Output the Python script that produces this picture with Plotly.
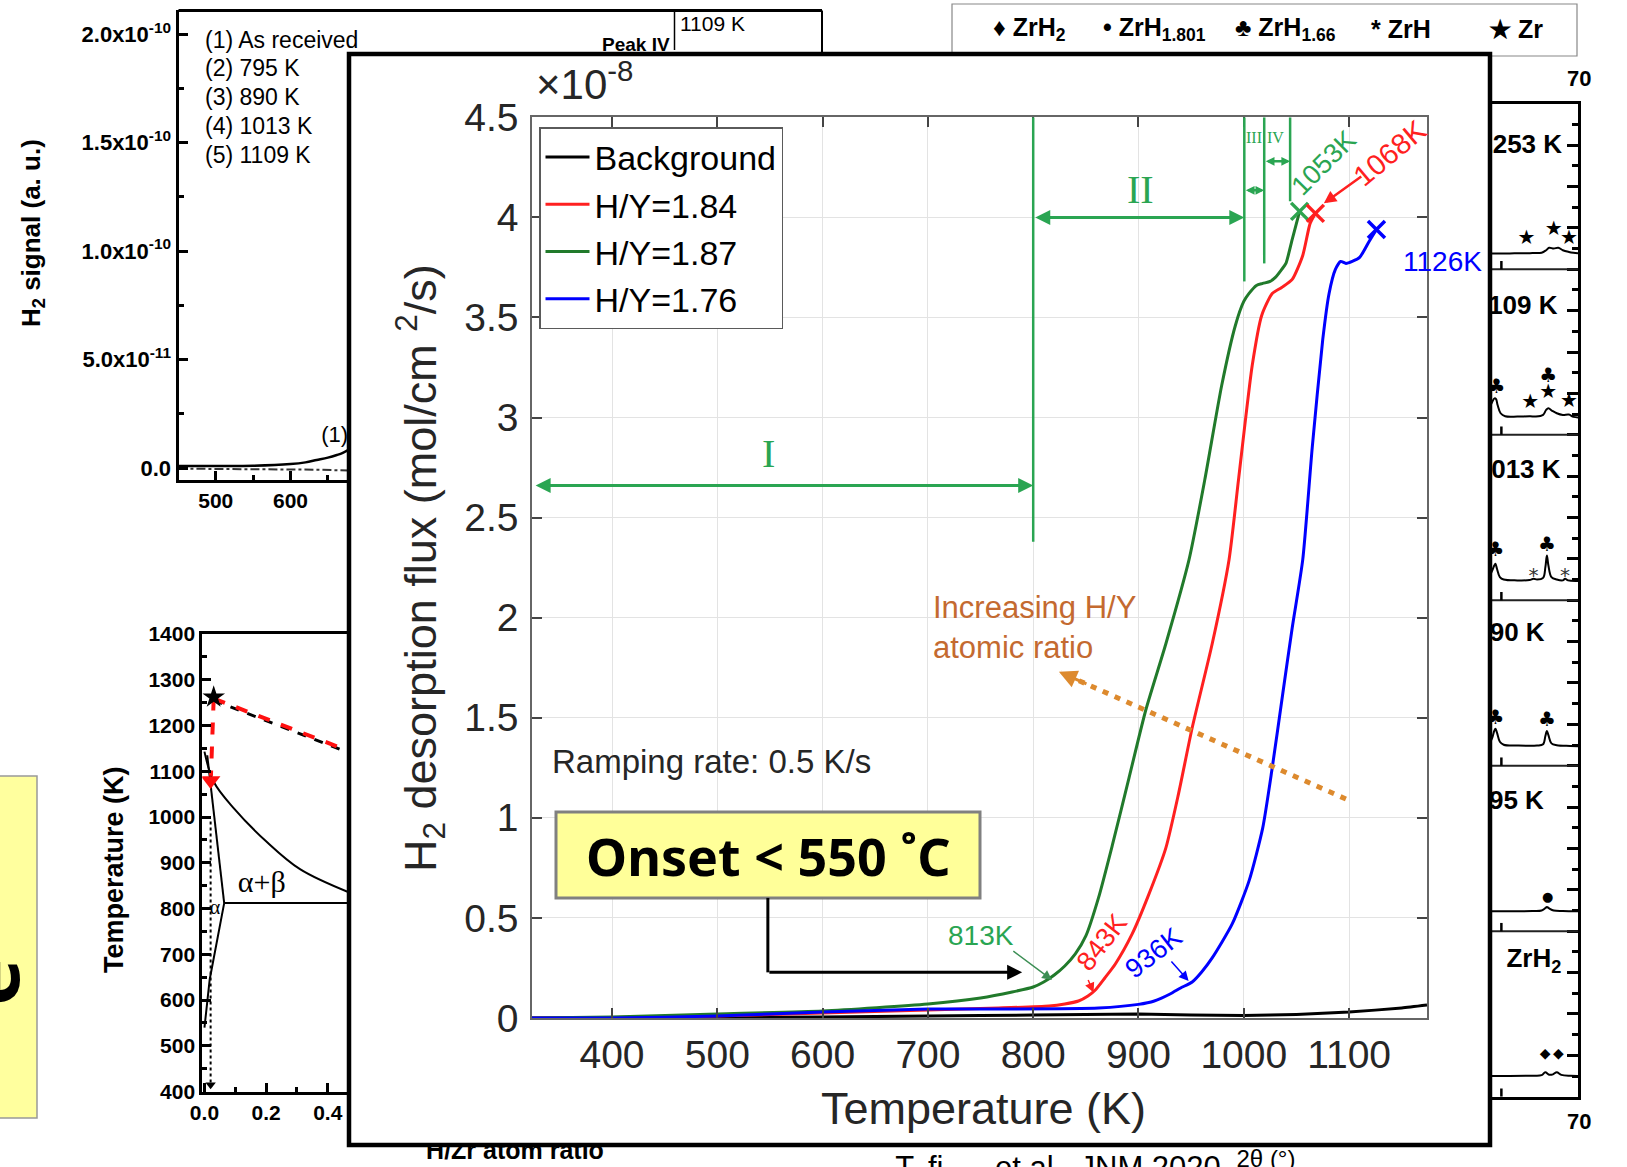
import plotly.graph_objects as go

W, H = 1627, 1167
def px(x): return x / W
def py(y): return 1 - y / H

FONT = "Liberation Sans"
SERIF = "Liberation Serif"
GREEN_LINE = "#217a2b"
GREEN_ANN = "#2aa552"
RED = "#ff2020"
BLUE = "#0000ff"
ORANGE = "#c46a30"
ORANGE_DOT = "#dd8a2e"
TXT = "#262626"

# ---------------- main chart data (flux in 1e-8 mol/cm^2/s) ----------------
bg_T = [324, 400, 500, 600, 700, 800, 900, 950, 1000, 1050, 1100, 1150, 1174]
bg_v = [0.0, 0.0, 0.002, 0.005, 0.01, 0.015, 0.02, 0.015, 0.012, 0.018, 0.03, 0.05, 0.065]

r_T = [324, 400, 500, 600, 700, 767, 815, 830, 843, 852, 859, 868, 878, 894, 910, 926, 938,
       951, 970, 986, 995, 1008, 1017, 1027, 1036, 1046, 1056, 1063, 1068]
r_v = [0.0, 0.003, 0.01, 0.025, 0.04, 0.05, 0.06, 0.07, 0.085, 0.11, 0.14, 0.2, 0.27, 0.42,
       0.62, 0.85, 1.12, 1.45, 1.87, 2.29, 2.69, 3.26, 3.51, 3.62, 3.65, 3.69, 3.81, 3.97, 4.02]

g_T = [324, 400, 500, 600, 700, 750, 780, 800, 810, 820, 830, 840, 850, 862, 875, 891, 907,
       926, 948, 963, 979, 992, 1000, 1005, 1012, 1018, 1025, 1030, 1036, 1040, 1046, 1050, 1053]
g_v = [0.0, 0.005, 0.02, 0.035, 0.07, 0.1, 0.13, 0.155, 0.18, 0.215, 0.26, 0.32, 0.41, 0.6,
       0.86, 1.2, 1.54, 1.87, 2.29, 2.69, 3.16, 3.46, 3.58, 3.62, 3.66, 3.67, 3.68, 3.70, 3.74,
       3.77, 3.89, 3.97, 4.03]

b_T = [324, 400, 500, 600, 700, 767, 862, 900, 915, 930, 940, 951, 960, 970, 989, 1005, 1018,
       1027, 1037, 1046, 1056, 1065, 1075, 1081, 1087, 1092, 1097, 1103, 1110, 1119, 1126]
b_v = [0.0, 0.0, 0.01, 0.03, 0.045, 0.045, 0.05, 0.068, 0.085, 0.12, 0.15, 0.18, 0.23, 0.30,
       0.47, 0.685, 0.95, 1.25, 1.62, 1.95, 2.29, 2.85, 3.39, 3.62, 3.74, 3.78, 3.77, 3.78,
       3.80, 3.88, 3.94]

end_T = {"g": 1053, "r": 1068, "b": 1126}
end_v = {"g": 4.03, "r": 4.02, "b": 3.94}

x_ticks = [400, 500, 600, 700, 800, 900, 1000, 1100]
y_ticks = [0, 0.5, 1, 1.5, 2, 2.5, 3, 3.5, 4, 4.5]

stage_T = [800, 1000.5, 1019.4, 1044]
stage_vlow = [2.38, 3.68, 3.77, 4.08]

# ---------------- top-left H2 signal panel (1e-11 a.u.) ----------------
tl_T = [450, 500, 550, 600, 620, 635, 650, 662, 670, 678]
tl_v = [0.09, 0.09, 0.1, 0.18, 0.26, 0.37, 0.48, 0.6, 0.7, 0.85]
tl_dot_T = [450, 500, 550, 600, 640, 678]
tl_dot_v = [-0.03, -0.04, -0.03, -0.04, -0.08, -0.12]
tl_labels = ["(1) As received", "(2) 795 K", "(3) 890 K", "(4) 1013 K", "(5) 1109 K"]

# ---------------- bottom-left phase diagram ----------------
beta_x = [0.0, 0.03, 0.094, 0.2, 0.31, 0.47]
beta_T = [1143, 1077, 1020, 947, 886, 835]
alpha_up_x = [0.009, 0.064]
alpha_up_T = [1135, 812]
eut_x = [0.064, 0.47]
eut_T = [812, 812]
alpha_lo_x = [0.064, 0.017, 0.0]
alpha_lo_T = [812, 645, 540]
path_x = [0.03, 0.47]
path_T = [1259, 1144]
drop_x = [0.03, 0.021]
drop_T = [1259, 1090]
cool_x = [0.02, 0.02]
cool_T = [990, 415]

# ---------------- right XRD panel (2theta, stacked units) ----------------
xrd_x = [
    [64.2, 65.5, 67.0, 67.6, 67.84, 68.1, 68.35, 68.6, 68.9, 69.5, 70.0],
    [64.2, 65.5, 67.0, 67.6, 67.85, 67.95, 68.1, 68.4, 69.0, 70.0],
    [64.2, 64.35, 64.48, 64.56, 64.66, 64.85, 65.1, 66.0, 67.3, 67.7, 67.85, 67.95, 68.05, 68.25, 68.6, 69.5, 70.0],
    [64.2, 64.35, 64.48, 64.56, 64.66, 64.85, 65.1, 66.0, 66.8, 67.07, 67.3, 67.7, 67.85, 67.95, 68.05, 68.25, 68.6, 69.0, 69.15, 69.35, 70.0],
    [64.2, 64.35, 64.5, 64.6, 64.7, 64.9, 65.2, 66.0, 66.85, 67.2, 67.7, 67.9, 68.05, 68.3, 68.6, 69.0, 69.4, 69.7, 70.0],
    [64.2, 65.5, 66.6, 67.0, 67.6, 67.9, 68.1, 68.4, 68.7, 69.0, 69.4, 69.7, 70.0],
]
xrd_y = [
    [0.125, 0.125, 0.127, 0.13, 0.148, 0.133, 0.135, 0.148, 0.132, 0.126, 0.125],
    [1.12, 1.121, 1.122, 1.125, 1.14, 1.147, 1.138, 1.125, 1.122, 1.12],
    [2.14, 2.17, 2.21, 2.223, 2.2, 2.145, 2.127, 2.122, 2.122, 2.13, 2.18, 2.21, 2.185, 2.135, 2.124, 2.12, 2.118],
    [3.15, 3.18, 3.21, 3.22, 3.19, 3.14, 3.125, 3.12, 3.122, 3.13, 3.125, 3.135, 3.2, 3.27, 3.21, 3.14, 3.125, 3.12, 3.13, 3.12, 3.117],
    [4.17, 4.2, 4.22, 4.215, 4.18, 4.13, 4.112, 4.11, 4.112, 4.11, 4.12, 4.15, 4.16, 4.145, 4.13, 4.12, 4.122, 4.108, 4.105],
    [5.095, 5.096, 5.097, 5.098, 5.1, 5.115, 5.13, 5.125, 5.13, 5.115, 5.105, 5.1, 5.097],
]
xrd_labels = ["ZrH<sub>2</sub>", "795 K", "890 K", "1013 K", "1109 K", "1253 K"]
xrd_label_x = [68.9, 67.75, 67.8, 68.85, 68.65, 68.95]
xrd_label_y = [0.82, 1.78, 2.79, 3.78, 4.77, 5.74]
star_x = [66.6, 68.4, 69.4, 66.85, 68.03, 69.4]
star_y = [5.185, 5.235, 5.185, 4.19, 4.25, 4.2]
club_x = [64.62, 68.03, 64.56, 67.95, 64.56, 67.95]
club_y = [4.28, 4.35, 3.30, 3.33, 2.28, 2.27]
ast_x = [67.07, 69.15]
ast_y = [3.14, 3.14]
dot_x = [68.0]
dot_y = [1.2]
dia_x = [67.84, 68.7]
dia_y = [0.252, 0.252]
xrd_legend = ["♦ ZrH<sub>2</sub>", "• ZrH<sub>1.801</sub>", "♣ ZrH<sub>1.66</sub>", "* ZrH", "★ Zr"]
xrd_legend_x = [991, 1101, 1233, 1369, 1487]

fig = go.Figure()

# ---- main traces ----
fig.add_trace(go.Scatter(x=bg_T, y=bg_v, mode="lines", name="Background",
                         line=dict(color="black", width=3, shape="spline", smoothing=0.5)))
fig.add_trace(go.Scatter(x=r_T, y=r_v, mode="lines", name="H/Y=1.84",
                         line=dict(color=RED, width=3, shape="spline", smoothing=0.6)))
fig.add_trace(go.Scatter(x=g_T, y=g_v, mode="lines", name="H/Y=1.87",
                         line=dict(color=GREEN_LINE, width=3, shape="spline", smoothing=0.6)))
fig.add_trace(go.Scatter(x=b_T, y=b_v, mode="lines", name="H/Y=1.76",
                         line=dict(color=BLUE, width=3, shape="spline", smoothing=0.6)))
for k, c in [("g", "#2da44e"), ("r", RED), ("b", BLUE)]:
    fig.add_trace(go.Scatter(x=[end_T[k]], y=[end_v[k]], mode="markers", showlegend=False,
                             marker=dict(symbol="x-thin", size=17, line=dict(width=3.5, color=c))))
# orange dotted trend line
fig.add_trace(go.Scatter(x=[1097, 826], y=[1.094, 1.726], mode="lines", showlegend=False,
                         line=dict(color=ORANGE_DOT, width=5, dash="6px,7px")))

# ---- top-left panel ----
fig.add_trace(go.Scatter(x=tl_T, y=tl_v, mode="lines", showlegend=False, xaxis="x2", yaxis="y2",
                         line=dict(color="black", width=2.5, shape="spline")))
fig.add_trace(go.Scatter(x=tl_dot_T, y=tl_dot_v, mode="lines", showlegend=False, xaxis="x2", yaxis="y2",
                         line=dict(color="#333", width=2, dash="dashdot")))
fig.add_trace(go.Scatter(x=[659], y=[1.45], mode="text", text=["(1)"], showlegend=False,
                         xaxis="x2", yaxis="y2", textfont=dict(family=FONT, size=22, color="black")))

# ---- phase diagram ----
pd = dict(xaxis="x3", yaxis="y3", showlegend=False, mode="lines")
fig.add_trace(go.Scatter(x=beta_x, y=beta_T, line=dict(color="black", width=2, shape="spline"), **pd))
fig.add_trace(go.Scatter(x=alpha_up_x, y=alpha_up_T, line=dict(color="black", width=2), **pd))
fig.add_trace(go.Scatter(x=eut_x, y=eut_T, line=dict(color="black", width=2), **pd))
fig.add_trace(go.Scatter(x=alpha_lo_x, y=alpha_lo_T, line=dict(color="black", width=2), **pd))
fig.add_trace(go.Scatter(x=cool_x, y=cool_T, line=dict(color="black", width=2, dash="dot"), **pd))
fig.add_trace(go.Scatter(x=[cool_x[1]], y=[cool_T[1]], xaxis="x3", yaxis="y3", showlegend=False,
                         mode="markers", marker=dict(symbol="triangle-down", size=9, color="black")))
fig.add_trace(go.Scatter(x=path_x, y=[t - 4 for t in path_T], line=dict(color="black", width=3, dash="dash"), **pd))
fig.add_trace(go.Scatter(x=path_x, y=path_T, line=dict(color="#ff1010", width=4, dash="dash"), **pd))
fig.add_trace(go.Scatter(x=drop_x, y=drop_T, line=dict(color="#ff1010", width=4, dash="dash"), **pd))
fig.add_trace(go.Scatter(x=[0.02], y=[1080], xaxis="x3", yaxis="y3", showlegend=False, mode="markers",
                         marker=dict(symbol="triangle-down", size=17, color="#ff1010")))
fig.add_trace(go.Scatter(x=[0.03], y=[1262], xaxis="x3", yaxis="y3", showlegend=False, mode="markers",
                         marker=dict(symbol="star", size=17, color="black")))
fig.add_trace(go.Scatter(x=[0.186, 0.034], y=[853, 800], xaxis="x3", yaxis="y3", showlegend=False,
                         mode="text", text=["α+β", "α"],
                         textfont=dict(family=SERIF, size=[30, 20], color="black")))

# ---- XRD panel ----
for xs, ys in zip(xrd_x, xrd_y):
    fig.add_trace(go.Scatter(x=xs, y=ys, mode="lines", showlegend=False, xaxis="x4", yaxis="y4",
                             line=dict(color="black", width=2, shape="spline", smoothing=1)))
sym = dict(mode="text", showlegend=False, xaxis="x4", yaxis="y4")
fig.add_trace(go.Scatter(x=star_x, y=star_y, text=["★"] * len(star_x),
                         textfont=dict(family="DejaVu Sans", size=20, color="black"), **sym))
fig.add_trace(go.Scatter(x=club_x, y=club_y, text=["♣"] * len(club_x),
                         textfont=dict(family="DejaVu Sans", size=20, color="black"), **sym))
fig.add_trace(go.Scatter(x=ast_x, y=ast_y, text=["*"] * len(ast_x),
                         textfont=dict(family="DejaVu Sans", size=20, color="#333"), **sym))
fig.add_trace(go.Scatter(x=dot_x, y=dot_y, text=["●"],
                         textfont=dict(family="DejaVu Sans", size=13, color="black"), **sym))
fig.add_trace(go.Scatter(x=dia_x, y=dia_y, text=["◆", "◆"],
                         textfont=dict(family="DejaVu Sans", size=14, color="black"), **sym))
fig.add_trace(go.Scatter(x=xrd_label_x, y=xrd_label_y, text=xrd_labels, textposition="middle left",
                         textfont=dict(family=FONT, size=26, color="black", weight="bold"), **sym))

# ---- clipped bottom texts ----
fig.add_trace(go.Scatter(x=[515, 1058, 1266], y=[1153, 1170, 1161], mode="text", showlegend=False,
                         xaxis="x5", yaxis="y5",
                         text=["H/Zr atom ratio", "T. fi      et al., JNM 2020", "2θ (°)"],
                         textfont=dict(family=FONT, size=[25, 31, 24], color="black",
                                       weight=["bold", "normal", "normal"])))

ax_common = dict(showgrid=False, zeroline=False, automargin=False)

layout = dict(
    width=W, height=H, margin=dict(l=0, r=0, t=0, b=0),
    paper_bgcolor="white", plot_bgcolor="rgba(0,0,0,0)",
    font=dict(family=FONT, color=TXT),
    legend=dict(x=px(539), y=py(127), xanchor="left", yanchor="top", bgcolor="white",
                bordercolor="#5a5a5a", borderwidth=1.5, itemwidth=44,
                font=dict(family=FONT, size=34, color="black"), tracegroupgap=0),
    xaxis=dict(domain=[px(532), px(1427)], range=[324, 1174], tickvals=x_ticks,
               ticks="inside", ticklen=10, tickwidth=1.5, tickcolor="#444",
               showline=True, linecolor="#666", linewidth=1.5, mirror="ticks",
               showgrid=True, gridcolor="#e3e3e3", gridwidth=1, zeroline=False,
               tickfont=dict(family=FONT, size=39, color=TXT), ticklabelstandoff=1,
               automargin=False, anchor="y"),
    yaxis=dict(domain=[py(1018), py(117.3)], range=[0, 4.5], tickvals=y_ticks,
               ticks="inside", ticklen=10, tickwidth=1.5, tickcolor="#444",
               showline=True, linecolor="#666", linewidth=1.5, mirror="ticks",
               showgrid=True, gridcolor="#e3e3e3", gridwidth=1, zeroline=False,
               tickfont=dict(family=FONT, size=39, color=TXT), ticklabelstandoff=4,
               automargin=False, anchor="x"),
    xaxis2=dict(domain=[px(178.5), px(349)], range=[450.1, 678.3], tickvals=[500, 600],
                ticks="inside", ticklen=9, tickwidth=2.5, tickcolor="black",
                minor=dict(tickvals=[550, 650], ticks="inside", ticklen=5, tickwidth=2.5, tickcolor="black"),
                showline=True, linecolor="black", linewidth=3,
                tickfont=dict(family=FONT, size=21, color="black", weight="bold"),
                anchor="y2", **ax_common),
    yaxis2=dict(domain=[py(480), py(10.4)], range=[-0.553, 21.09], tickvals=[0, 5, 10, 15, 20],
                ticktext=["0.0", "5.0x10<sup>-11</sup>", "1.0x10<sup>-10</sup>",
                          "1.5x10<sup>-10</sup>", "2.0x10<sup>-10</sup>"],
                ticks="inside", ticklen=9, tickwidth=2.5, tickcolor="black",
                minor=dict(tickvals=[2.5, 7.5, 12.5, 17.5], ticks="inside", ticklen=5,
                           tickwidth=2.5, tickcolor="black"),
                showline=True, linecolor="black", linewidth=3,
                tickfont=dict(family=FONT, size=22, color="black", weight="bold"),
                anchor="x2", **ax_common),
    xaxis3=dict(domain=[px(202.3), px(349)], range=[-0.007, 0.469], tickvals=[0, 0.2, 0.4],
                ticktext=["0.0", "0.2", "0.4"],
                ticks="inside", ticklen=9, tickwidth=2.5, tickcolor="black",
                minor=dict(tickvals=[0.1, 0.3], ticks="inside", ticklen=5, tickwidth=2.5, tickcolor="black"),
                showline=True, linecolor="black", linewidth=3, mirror=True,
                tickfont=dict(family=FONT, size=21, color="black", weight="bold"),
                anchor="y3", **ax_common),
    yaxis3=dict(domain=[py(1091.6), py(634)], range=[400, 1400],
                tickvals=list(range(400, 1401, 100)),
                ticks="inside", ticklen=9, tickwidth=2.5, tickcolor="black",
                minor=dict(tickvals=list(range(450, 1400, 100)), ticks="inside", ticklen=5,
                           tickwidth=2.5, tickcolor="black"),
                showline=True, linecolor="black", linewidth=3,
                tickfont=dict(family=FONT, size=21, color="black", weight="bold"),
                anchor="x3", **ax_common),
    xaxis4=dict(domain=[px(1490), px(1578)], range=[64.2, 70], showticklabels=False, ticks="",
                showline=True, linecolor="black", linewidth=3, mirror=True,
                anchor="y4", **ax_common),
    yaxis4=dict(domain=[py(1096.7), py(103.8)], range=[0, 6], side="right", dtick=0.25,
                showticklabels=False, ticks="inside", ticklen=11, tickwidth=2.5, tickcolor="black",
                minor=dict(dtick=0.125, ticks="inside", ticklen=6, tickwidth=2.5, tickcolor="black"),
                showline=True, linecolor="black", linewidth=3,
                anchor="x4", **ax_common),
    xaxis5=dict(domain=[0, 1], range=[0, W], visible=False, anchor="y5", **ax_common),
    yaxis5=dict(domain=[0, py(1147)], range=[H, 1147], visible=False, anchor="x5", **ax_common),
)
fig.update_layout(**layout)

shapes = []
# XRD legend box (under the inset)
shapes.append(dict(type="rect", xref="paper", yref="paper", x0=px(952), x1=px(1577), y0=py(56), y1=py(4),
                   line=dict(color="#888", width=1.2), fillcolor="white", layer="below"))
# inset white fill
shapes.append(dict(type="rect", xref="paper", yref="paper", x0=px(349), x1=px(1490), y0=py(1145), y1=py(54),
                   line=dict(width=0), fillcolor="white", layer="below"))
# top-left panel frame remainder
shapes.append(dict(type="line", xref="paper", yref="paper", x0=px(178.5), x1=px(822), y0=py(10.4), y1=py(10.4),
                   line=dict(color="black", width=3)))
shapes.append(dict(type="line", xref="paper", yref="paper", x0=px(822), x1=px(822), y0=py(10.4), y1=py(54),
                   line=dict(color="black", width=2)))
shapes.append(dict(type="line", xref="paper", yref="paper", x0=px(674.5), x1=px(674.5), y0=py(10.4), y1=py(50),
                   line=dict(color="black", width=1.5)))
# XRD separators and small ticks
for k in range(1, 6):
    shapes.append(dict(type="line", xref="x4", yref="y4", x0=64.2, x1=70, y0=k, y1=k,
                       line=dict(color="#222", width=2)))
for k in range(0, 6):
    shapes.append(dict(type="line", xref="x4", yref="y4", x0=64.95, x1=64.95, y0=k, y1=k + 0.05,
                       line=dict(color="black", width=2.5)))
# yellow box at left
shapes.append(dict(type="rect", xref="paper", yref="paper", x0=px(-2), x1=px(37), y0=py(1118), y1=py(776),
                   line=dict(color="#999", width=1.5), fillcolor="#ffff9e"))
# stage boundary lines (green)
for t, vlow in zip(stage_T, stage_vlow):
    shapes.append(dict(type="line", xref="x", yref="y", x0=t, x1=t, y0=vlow, y1=4.5,
                       line=dict(color=GREEN_ANN, width=2.5)))
# onset box + connector
shapes.append(dict(type="rect", xref="paper", yref="paper", x0=px(556), x1=px(980), y0=py(898), y1=py(812),
                   line=dict(color="#808080", width=3), fillcolor="#ffff99", layer="above"))
shapes.append(dict(type="line", xref="x", yref="y", x0=548, x1=548, y0=0.60, y1=0.228,
                   line=dict(color="black", width=3)))
# inset border
shapes.append(dict(type="rect", xref="paper", yref="paper", x0=px(349), x1=px(1490), y0=py(1145), y1=py(54),
                   line=dict(color="black", width=4.5), fillcolor="rgba(0,0,0,0)", layer="above"))

anns = []
def A(**kw):
    base = dict(showarrow=False, xanchor="center", yanchor="middle")
    base.update(kw)
    anns.append(base)

def arrow(x, y, ax, ay, color, width=2.5, head=2, size=1.0, side="end"):
    anns.append(dict(x=x, y=y, ax=ax, ay=ay, xref="x", yref="y", axref="x", ayref="y",
                     text="", showarrow=True, arrowcolor=color, arrowwidth=width,
                     arrowhead=head, startarrowhead=head, arrowsize=size, startarrowsize=size,
                     arrowside=side, standoff=0, startstandoff=0))

# main chart texts
A(x=px(983.6), y=py(1108), xref="paper", yref="paper", text="Temperature (K)",
  font=dict(family=FONT, size=45, color=TXT))
A(x=px(420), y=py(568), xref="paper", yref="paper", textangle=-90,
  text="H<sub>2</sub> desorption flux (mol/cm <sup>2</sup>/s)", font=dict(family=FONT, size=45, color=TXT))
A(x=px(534), y=py(110), xref="paper", yref="paper", xanchor="left", yanchor="bottom",
  text="×10<sup>-8</sup>", font=dict(family=FONT, size=42, color=TXT))
A(x=549, y=2.82, xref="x", yref="y", text="I", font=dict(family=SERIF, size=40, color=GREEN_ANN))
A(x=902, y=4.14, xref="x", yref="y", text="II", font=dict(family=SERIF, size=40, color=GREEN_ANN))
A(x=1009.5, y=4.40, xref="x", yref="y", text="III", font=dict(family=SERIF, size=16, color=GREEN_ANN))
A(x=1030, y=4.40, xref="x", yref="y", text="IV", font=dict(family=SERIF, size=16, color=GREEN_ANN))
arrow(800, 2.66, 326, 2.66, GREEN_ANN, width=3, size=1.0, side="end+start")
arrow(1000.5, 4.0, 800.5, 4.0, GREEN_ANN, width=3, size=1.0, side="end+start")
arrow(1019.4, 4.135, 1000.5, 4.135, GREEN_ANN, width=2.5, size=0.7, side="end+start")
arrow(1044, 4.28, 1019.4, 4.28, GREEN_ANN, width=2.5, size=0.7, side="end+start")

A(x=1076, y=4.27, xref="x", yref="y", text="1053K", textangle=-45,
  font=dict(family=FONT, size=27, color=GREEN_ANN))
A(x=1139, y=4.32, xref="x", yref="y", text="1068K", textangle=-40,
  font=dict(family=FONT, size=29, color=RED))
arrow(1076, 4.07, 1113, 4.21, RED, width=2.5, size=1.0)
A(x=px(1442), y=py(261.5), xref="paper", yref="paper", text="1126K",
  font=dict(family=FONT, size=28, color=BLUE))

A(x=750, y=0.41, xref="x", yref="y", text="813K", font=dict(family=FONT, size=28, color=GREEN_ANN))
arrow(817.8, 0.19, 779.7, 0.34, "#3d8f55", width=1.5, size=1.3)
A(x=865.3, y=0.38, xref="x", yref="y", text="843K", textangle=-52,
  font=dict(family=FONT, size=27, color=RED))
arrow(857.3, 0.127, 851.6, 0.197, RED, width=1.5, size=1.3)
A(x=914.3, y=0.325, xref="x", yref="y", text="936K", textangle=-38,
  font=dict(family=FONT, size=27, color=BLUE))
arrow(947.6, 0.185, 930, 0.29, BLUE, width=1.5, size=1.3)

A(x=341, y=1.28, xref="x", yref="y", xanchor="left", text="Ramping rate: 0.5 K/s",
  font=dict(family=FONT, size=33, color=TXT))
A(x=703, y=1.95, xref="x", yref="y", xanchor="left", align="left",
  text="Increasing H/Y<br>atomic ratio", font=dict(family=FONT, size=31, color=ORANGE))
arrow(824.4, 1.73, 852, 1.666, ORANGE_DOT, width=3, size=1.2)

A(x=px(768), y=py(855), xref="paper", yref="paper", text="<b>Onset < 550 ˚C</b>",
  font=dict(family="Noto Sans", size=52, color="black"))
arrow(789.5, 0.228, 548, 0.228, "black", width=3, size=1.0)

# top-left panel texts
A(x=px(33), y=py(233), xref="paper", yref="paper", textangle=-90,
  text="<b>H<sub>2</sub> signal (a. u.)</b>", font=dict(family=FONT, size=26, color="black"))
for i, lab in enumerate(tl_labels):
    A(x=px(203), y=py(39.5 + 28.8 * i), xref="paper", yref="paper", xanchor="left",
      text=lab, font=dict(family=FONT, size=23, color="black"))
A(x=px(672), y=py(44), xref="paper", yref="paper", xanchor="right",
  text="<b>Peak IV</b>", font=dict(family=FONT, size=19, color="black"))
A(x=px(678), y=py(23), xref="paper", yref="paper", xanchor="left",
  text="1109 K", font=dict(family=FONT, size=21, color="black"))

# phase diagram title
A(x=px(114), y=py(870), xref="paper", yref="paper", textangle=-90,
  text="<b>Temperature (K)</b>", font=dict(family=FONT, size=27, color="black"))

# XRD legend and 70 labels
for t, xl in zip(xrd_legend, xrd_legend_x):
    A(x=px(xl), y=py(29), xref="paper", yref="paper", xanchor="left",
      text="<b>" + t + "</b>", font=dict(family=FONT, size=25, color="black"))
A(x=px(1579), y=py(78), xref="paper", yref="paper", text="<b>70</b>",
  font=dict(family=FONT, size=22, color="black"))
A(x=px(1579), y=py(1121), xref="paper", yref="paper", text="<b>70</b>",
  font=dict(family=FONT, size=22, color="black"))

# yellow box glyph
A(x=px(-13), y=py(982), xref="paper", yref="paper", textangle=-90,
  text="<b>e</b>", font=dict(family="Noto Sans", size=80, color="black"))

fig.update_layout(shapes=shapes, annotations=anns)
fig.write_html("out.html")
